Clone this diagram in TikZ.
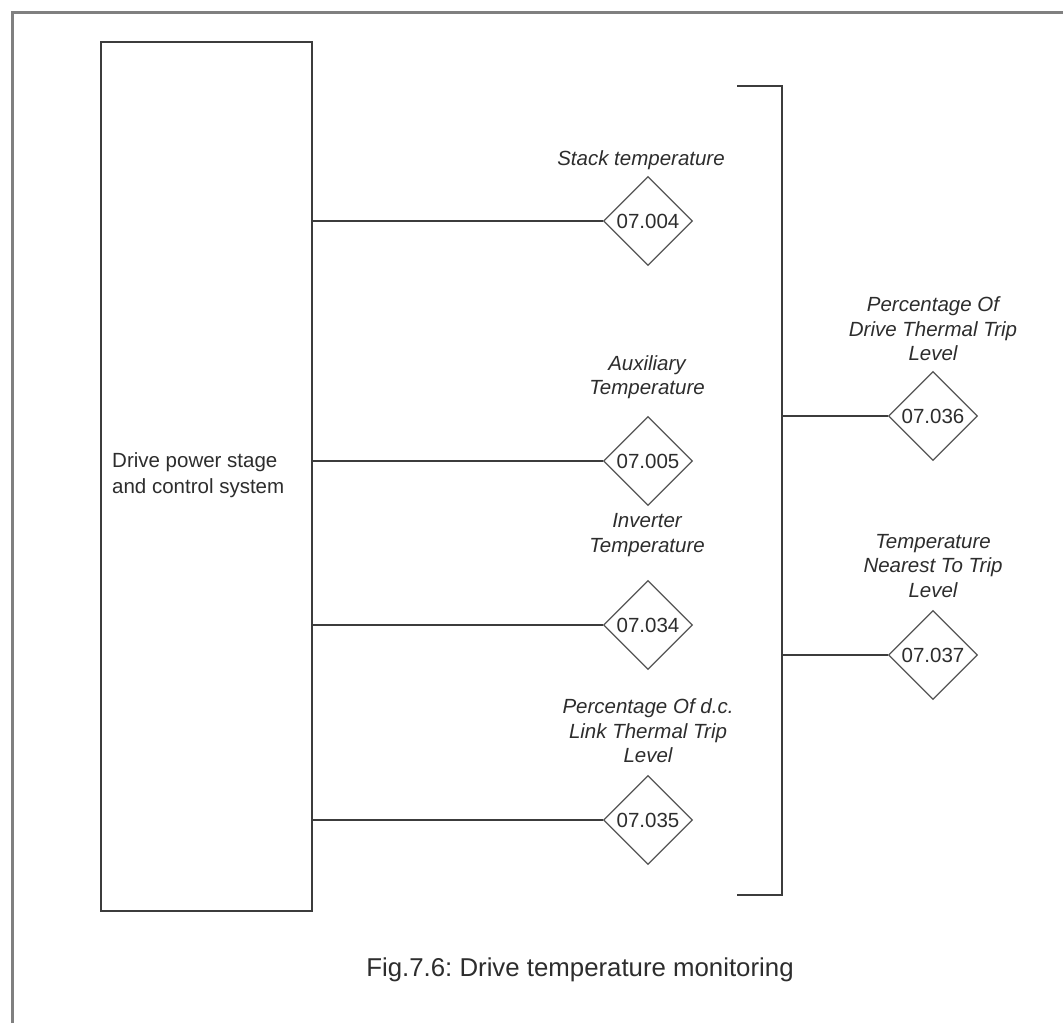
\documentclass[tikz,border=0pt]{standalone}
\usepackage{fontspec}
\setmainfont{Liberation Sans}
\usetikzlibrary{shapes.geometric}
\definecolor{linec}{RGB}{60,60,60}
\definecolor{dmc}{RGB}{85,85,85}
\definecolor{txtc}{RGB}{45,45,45}
\definecolor{framec}{RGB}{128,128,128}
\begin{document}
\frenchspacing
\begin{tikzpicture}[x=1pt,y=-1pt,
  param/.style={diamond, draw=dmc, line width=1.3pt, minimum width=89pt, minimum height=89pt, inner sep=0pt, font=\fontsize{20.5}{24.5}\selectfont, text=txtc},
  lbl/.style={align=center, font=\fontsize{20.5}{24.5}\selectfont\itshape, text=txtc, inner sep=0pt},
  wire/.style={draw=linec, line width=2pt},
]
\useasboundingbox (0,0) rectangle (1063,1023);
\fill[white] (0,0) rectangle (1063,1023);
\draw[framec, line width=3pt] (12,1023) -- (12,12) -- (1063,12);

% main block
\node[draw=linec, line width=2pt, minimum width=211pt, minimum height=869pt, anchor=north west, inner sep=0pt] (sys) at (100,41) {};
\node[anchor=west, align=left, inner sep=0pt, font=\fontsize{20.5}{26}\selectfont, text=txtc] (systxt) at (112,475) {Drive power stage\\and control system};

% parameters
\node[param] (d004) at (648,221) {07.004};
\node[param] (d005) at (648,461) {07.005};
\node[param] (d034) at (648,625) {07.034};
\node[param] (d035) at (648,820) {07.035};
\node[param] (d036) at (933,416) {07.036};
\node[param] (d037) at (933,655) {07.037};

% labels
\node[lbl] (l004) at (641,160) {Stack temperature};
\node[lbl] (l005) at (647,377) {Auxiliary\\Temperature};
\node[lbl] (l034) at (647,535) {Inverter\\Temperature};
\node[lbl] (l035) at (648,731) {Percentage Of d.c.\\Link Thermal Trip\\Level};
\node[lbl] (l036) at (933,329) {Percentage Of\\Drive Thermal Trip\\Level};
\node[lbl] (l037) at (933,566) {Temperature\\Nearest To Trip\\Level};

% connectors from block
\draw[wire] (sys.east |- d004) -- (d004.west);
\draw[wire] (sys.east |- d005) -- (d005.west);
\draw[wire] (sys.east |- d034) -- (d034.west);
\draw[wire] (sys.east |- d035) -- (d035.west);

% bracket
\coordinate (btl) at (737,86);
\coordinate (bt) at (782,86);
\coordinate (bb) at (782,895);
\coordinate (bbl) at (737,895);
\draw[wire] (btl) -- (bt) -- (bb) -- (bbl);
\draw[wire] (bt |- d036) -- (d036.west);
\draw[wire] (bt |- d037) -- (d037.west);

% caption
\node[font=\fontsize{25.8}{30}\selectfont, text=txtc, inner sep=0pt] (cap) at (580,970) {Fig.7.6: Drive temperature monitoring};
\end{tikzpicture}
\end{document}
